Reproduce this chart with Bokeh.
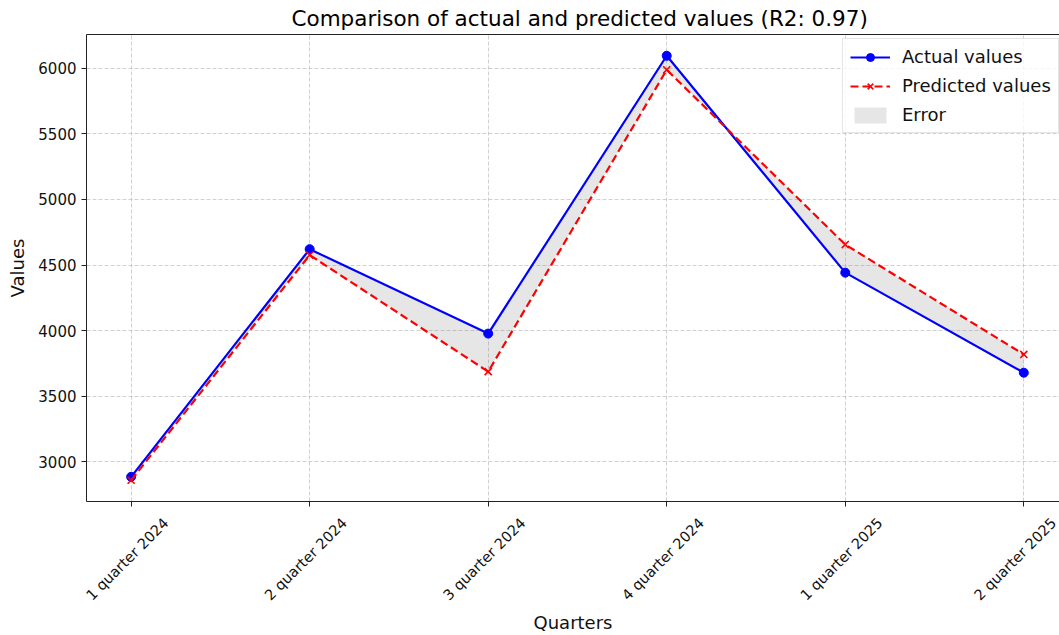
import numpy as np
from bokeh.plotting import figure
from bokeh.models import (ColumnDataSource, FixedTicker, Range1d, LinearAxis,
                          Legend, LegendItem)
from bokeh.embed import file_html
from bokeh.resources import INLINE

# ---- data ----
quarters = ["1 quarter 2024", "2 quarter 2024", "3 quarter 2024",
            "4 quarter 2024", "1 quarter 2025", "2 quarter 2025"]
actual = [2887, 4621, 3978, 6094, 4442, 3680]
predicted = [2861, 4576, 3688, 5987, 4656, 3819]
r2 = 0.97
y_ticks = [3000, 3500, 4000, 4500, 5000, 5500, 6000]

x = list(range(len(quarters)))
src = ColumnDataSource(dict(x=x, actual=actual, predicted=predicted))

FONT = "DejaVu Sans"
X0, X1 = -0.25, 5.2
SHIFT = 0.195  # label anchor offset so rotated labels sit centred under ticks

p = figure(width=1059, height=635, output_backend="svg", toolbar_location=None,
           x_range=Range1d(X0, X1), y_range=Range1d(2699, 6256),
           min_border_left=86, min_border_top=33, min_border_right=0,
           min_border_bottom=132,
           title=f"Comparison of actual and predicted values (R2: {r2})")
p.extra_x_ranges = {"lbl": Range1d(X0 - SHIFT, X1 - SHIFT)}
p.background_fill_color = "white"
p.border_fill_color = "white"
p.outline_line_color = None

p.title.text_font = FONT
p.title.text_font_size = "21.5px"
p.title.text_font_style = "normal"
p.title.text_color = "black"
p.title.align = "left"
p.title.offset = 205
p.title.standoff = 7

# grid
for g in (p.xgrid, p.ygrid):
    g.grid_line_color = "#b0b0b0"
    g.grid_line_alpha = 0.6
    g.grid_line_dash = "4 2"
    g.grid_line_width = 1
p.xgrid.ticker = FixedTicker(ticks=x)
p.ygrid.ticker = FixedTicker(ticks=y_ticks)

def style(ax):
    ax.axis_line_color = "#222222"
    ax.axis_line_width = 1
    ax.major_tick_line_color = "#222222"
    ax.major_tick_out = 5
    ax.major_tick_in = 0
    ax.minor_tick_line_color = None
    ax.major_label_text_font = FONT
    ax.major_label_text_font_size = "15px"
    ax.major_label_text_color = "#111111"
    ax.axis_label_text_font = FONT
    ax.axis_label_text_font_size = "18px"
    ax.axis_label_text_font_style = "normal"
    ax.axis_label_text_color = "#111111"

style(p.xaxis[0])
style(p.yaxis[0])

p.yaxis[0].ticker = FixedTicker(ticks=y_ticks)
p.yaxis[0].major_label_standoff = 5
p.yaxis[0].axis_label = "Values"
p.yaxis[0].axis_label_standoff = 7

# bottom axis 1: tick marks only
p.xaxis[0].ticker = FixedTicker(ticks=x)
p.xaxis[0].major_label_overrides = {i: "" for i in x}
p.xaxis[0].major_label_text_font_size = "1px"
p.xaxis[0].major_label_standoff = 0

# bottom axis 2: rotated labels + axis title
lab_axis = LinearAxis(x_range_name="lbl", ticker=FixedTicker(ticks=x),
                      major_label_overrides={i: q for i, q in zip(x, quarters)})
style(lab_axis)
lab_axis.axis_line_color = None
lab_axis.major_tick_line_color = None
lab_axis.major_tick_out = 0
lab_axis.major_label_text_font_size = "14.5px"
lab_axis.major_label_orientation = np.pi / 4
lab_axis.major_label_standoff = 14
lab_axis.axis_label = "Quarters"
lab_axis.axis_label_standoff = 0
p.add_layout(lab_axis, "below")

top_axis = LinearAxis(ticker=FixedTicker(ticks=[]), axis_line_color="#222222",
                      major_tick_line_color=None, minor_tick_line_color=None,
                      major_label_text_color=None)
p.add_layout(top_axis, "above")

# error band
va = p.varea(x="x", y1="actual", y2="predicted", source=src,
             fill_color="gray", fill_alpha=0.2)

# actual
la = p.line("x", "actual", source=src, line_color="blue", line_width=2.2)
sa = p.scatter("x", "actual", source=src, marker="circle", size=9,
               fill_color="blue", line_color="blue")

# predicted
lp = p.line("x", "predicted", source=src, line_color="red", line_width=2.2,
            line_dash="8 4")
sp = p.scatter("x", "predicted", source=src, marker="x", size=10,
               line_color="red", line_width=1.6)

legend = Legend(items=[
    LegendItem(label="Actual values", renderers=[la, sa]),
    LegendItem(label="Predicted values", renderers=[lp, sp]),
    LegendItem(label="Error", renderers=[va]),
], location=(756, 368))
legend.label_text_font = FONT
legend.label_text_font_size = "18px"
legend.label_text_color = "#111111"
legend.border_line_color = "#cccccc"
legend.border_line_width = 1
legend.background_fill_alpha = 0.8
legend.glyph_width = 40
legend.glyph_height = 20
legend.spacing = 8
legend.padding = 7
legend.margin = 0
legend.label_standoff = 12
p.add_layout(legend)

open("out.html", "w").write(file_html(p, INLINE))
